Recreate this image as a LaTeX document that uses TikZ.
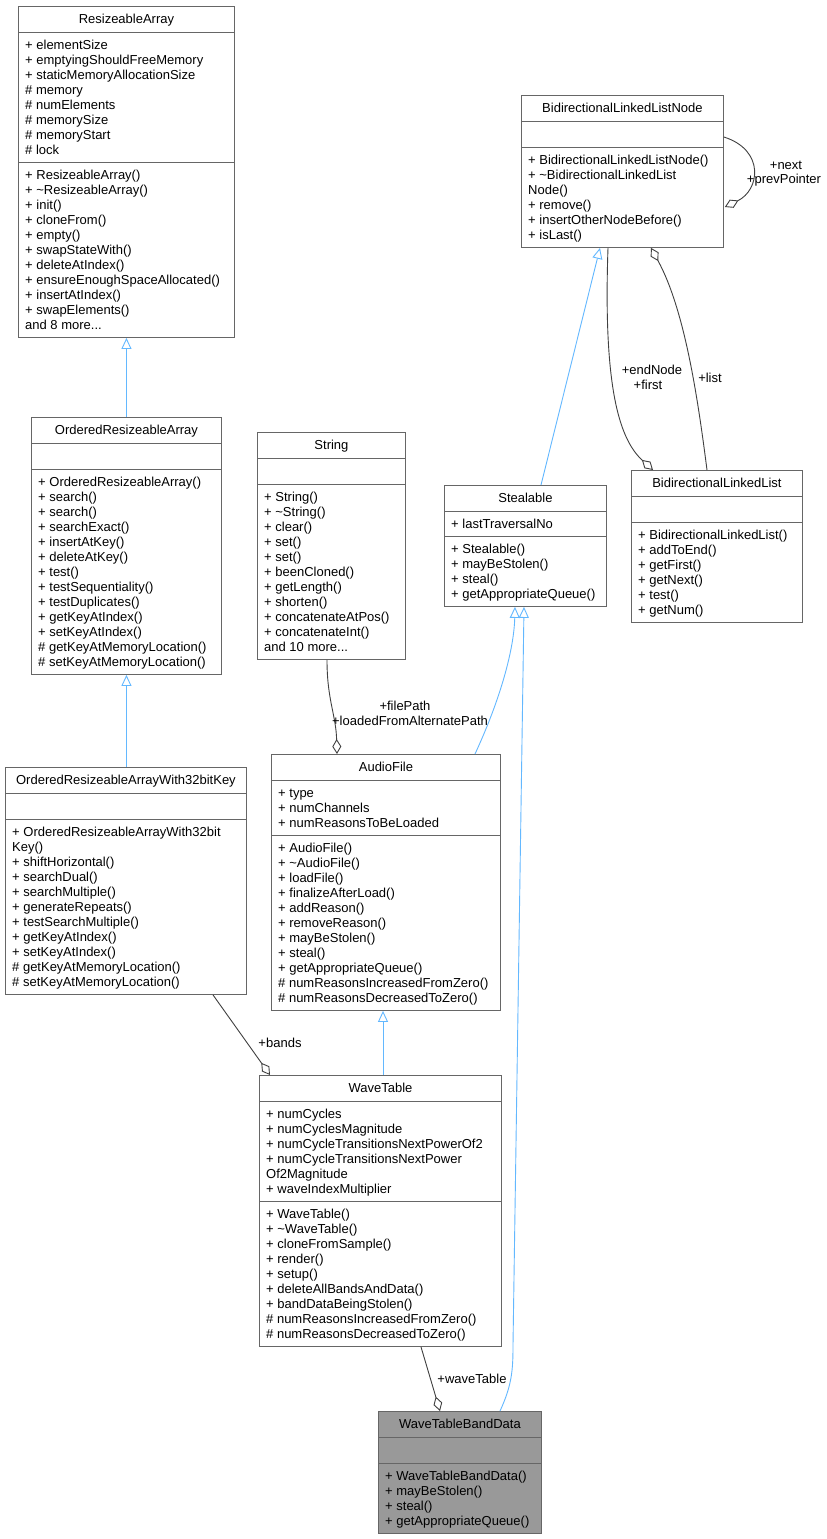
\documentclass[tikz,border=0pt]{standalone}
\usepackage{fontspec}
\setmainfont{Liberation Sans}
\usetikzlibrary{arrows.meta,calc}
\definecolor{inhblue}{HTML}{63B8FF}
\definecolor{edgegray}{HTML}{404040}
\definecolor{boxgray}{HTML}{666666}
\definecolor{darkfill}{HTML}{999999}
\tikzset{
  txt/.style={font=\fontsize{13}{15}\selectfont, inner sep=0pt},
  clsbox/.style={draw=boxgray, line width=0.9pt, inner sep=0pt, anchor=north west},
  inh/.style={draw=inhblue, line width=0.9pt, -{Triangle[open, length=11pt, width=10pt, fill=white]}},
  comp/.style={draw=edgegray, line width=0.9pt, -{Diamond[open, length=15pt, width=9pt, fill=white]}},
  lbl/.style={font=\fontsize{13}{15}\selectfont, inner sep=0pt, align=center},
}
\def\clsfill{white}
\def\more#1{and #1 more.\kern0pt.\kern0pt.}
% #1 name #2 x #3 ytop #4 w #5 title #6 nattr #7 attrs #8 nmeth #9 meths
\newcommand\umlcls[9]{%
  \pgfmathsetmacro\hA{ifthenelse(#6==0,26,15*#6+10)}%
  \pgfmathsetmacro\hB{ifthenelse(#8==0,26,15*#8+10)}%
  \pgfmathsetmacro\sA{#3+26}%
  \pgfmathsetmacro\sB{#3+26+\hA}%
  \pgfmathsetmacro\htot{26+\hA+\hB}%
  \node[clsbox, fill=\clsfill, minimum width=#4pt, minimum height=\htot pt] (#1) at (#2,-#3) {};
  \draw[boxgray, line width=0.9pt] (#2,-\sA) -- ++(#4,0);
  \draw[boxgray, line width=0.9pt] (#2,-\sB) -- ++(#4,0);
  \node[txt, anchor=base] at ($(#1.north)+(0,-17.5)$) {#5};
  \ifnum#6>0
  \foreach \t [count=\i] in {#7} {\node[txt, anchor=base west] at (#2+7,-\sA-17.5-15*\i+15) {\t};}
  \fi
  \ifnum#8>0
  \foreach \t [count=\i] in {#9} {\node[txt, anchor=base west] at (#2+7,-\sB-17.5-15*\i+15) {\t};}
  \fi
}
\begin{document}
\begin{tikzpicture}[x=1pt,y=1pt]
\useasboundingbox (0,0) rectangle (827,-1539);
\fill[white] (0,0) rectangle (827,-1539);

\umlcls{RA}{18}{6}{216}{ResizeableArray}{8}{+ elementSize,+ emptyingShouldFreeMemory,+ staticMemoryAllocationSize,\# memory,\# numElements,\# memorySize,\# memoryStart,\# lock}{11}{+ ResizeableArray(),+ \textasciitilde ResizeableArray(),+ init(),+ cloneFrom(),+ empty(),+ swapStateWith(),+ deleteAtIndex(),+ ensureEnoughSpaceAllocated(),+ insertAtIndex(),+ swapElements(),\more{8}}

\umlcls{ORA}{31}{417}{190}{OrderedResizeableArray}{0}{}{13}{+ OrderedResizeableArray(),+ search(),+ search(),+ searchExact(),+ insertAtKey(),+ deleteAtKey(),+ test(),+ testSequentiality(),+ testDuplicates(),+ getKeyAtIndex(),+ setKeyAtIndex(),\# getKeyAtMemoryLocation(),\# setKeyAtMemoryLocation()}

\umlcls{W32}{5}{767}{241}{OrderedResizeableArrayWith32bitKey}{0}{}{11}{+ OrderedResizeableArrayWith32bit,Key(),+ shiftHorizontal(),+ searchDual(),+ searchMultiple(),+ generateRepeats(),+ testSearchMultiple(),+ getKeyAtIndex(),+ setKeyAtIndex(),\# getKeyAtMemoryLocation(),\# setKeyAtMemoryLocation()}

\umlcls{STR}{257}{432}{148}{String}{0}{}{11}{+ String(),+ \textasciitilde String(),+ clear(),+ set(),+ set(),+ beenCloned(),+ getLength(),+ shorten(),+ concatenateAtPos(),+ concatenateInt(),\more{10}}

\umlcls{ST}{444}{485}{162}{Stealable}{1}{+ lastTraversalNo}{4}{+ Stealable(),+ mayBeStolen(),+ steal(),+ getAppropriateQueue()}

\umlcls{BLLN}{521}{95}{202}{BidirectionalLinkedListNode}{0}{}{6}{+ BidirectionalLinkedListNode(),+ \textasciitilde BidirectionalLinkedList,Node(),+ remove(),+ insertOtherNodeBefore(),+ isLast()}

\umlcls{BLL}{631}{470}{171}{BidirectionalLinkedList}{0}{}{6}{+ BidirectionalLinkedList(),+ addToEnd(),+ getFirst(),+ getNext(),+ test(),+ getNum()}

\umlcls{AF}{271}{754}{229}{AudioFile}{3}{+ type,+ numChannels,+ numReasonsToBeLoaded}{11}{+ AudioFile(),+ \textasciitilde AudioFile(),+ loadFile(),+ finalizeAfterLoad(),+ addReason(),+ removeReason(),+ mayBeStolen(),+ steal(),+ getAppropriateQueue(),\# numReasonsIncreasedFromZero(),\# numReasonsDecreasedToZero()}

\umlcls{WT}{259}{1075}{242}{WaveTable}{6}{+ numCycles,+ numCyclesMagnitude,+ numCycleTransitionsNextPowerOf2,+ numCycleTransitionsNextPower,Of2Magnitude,+ waveIndexMultiplier}{9}{+ WaveTable(),+ \textasciitilde WaveTable(),+ cloneFromSample(),+ render(),+ setup(),+ deleteAllBandsAndData(),+ bandDataBeingStolen(),\# numReasonsIncreasedFromZero(),\# numReasonsDecreasedToZero()}

\def\clsfill{darkfill}
\umlcls{WTBD}{378}{1411}{163}{WaveTableBandData}{0}{}{4}{+ WaveTableBandData(),+ mayBeStolen(),+ steal(),+ getAppropriateQueue()}

% inheritance
\draw[inh] (ORA.north) -- (RA.south);
\draw[inh] (W32.north -| ORA.south) -- (ORA.south);
\draw[inh] (WT.north -| 383,0) -- (AF.south -| 383,0);
\draw[inh] ($(ST.north west)+(97,0)$) -- ($(BLLN.south west)+(79,0)$);
\draw[inh] ($(AF.north west)+(204,0)$) .. controls (500,-700) and (514,-650) .. ($(ST.south west)+(71,0)$);
\draw[inh] ($(WTBD.north west)+(122,0)$) .. controls (512,-1385) and (513,-1370) .. (513,-1345) -- ($(ST.south west)+(80,0)$);

% associations
\draw[comp] ($(STR.south west)+(70,0)$) .. controls (327,-700) and (336,-715) .. ($(AF.north west)+(66,0)$);
\node[lbl] at (405,-706) {+filePath};
\node[lbl] at (410,-721) {+loadedFromAlternatePath};

\draw[comp] ($(W32.south west)+(208,0)$) -- ($(WT.north west)+(11,0)$);
\node[lbl] at (280,-1043) {+bands};

\draw[comp] ($(WT.south west)+(162,0)$) -- ($(WTBD.north west)+(62,0)$);
\node[lbl] at (472,-1379) {+waveTable};

\draw[comp] ($(BLLN.south west)+(87,0)$) .. controls (603,-390) and (620,-440) .. ($(BLL.north west)+(22,0)$);
\node[lbl] at (652,-370) {+endNode};
\node[lbl] at (648,-385) {+first};

\draw[comp] ($(BLL.north west)+(76,0)$) .. controls (698,-400) and (685,-310) .. ($(BLLN.south west)+(130,0)$);
\node[lbl] at (710,-378) {+list};

\draw[comp] ($(BLLN.north east)+(0,-42)$) .. controls (765,-150) and (760,-190) .. ($(BLLN.north east)+(1,-112)$);
\node[lbl] at (786,-165) {+next};
\node[lbl] at (784,-180) {+prevPointer};
\end{tikzpicture}
\end{document}
